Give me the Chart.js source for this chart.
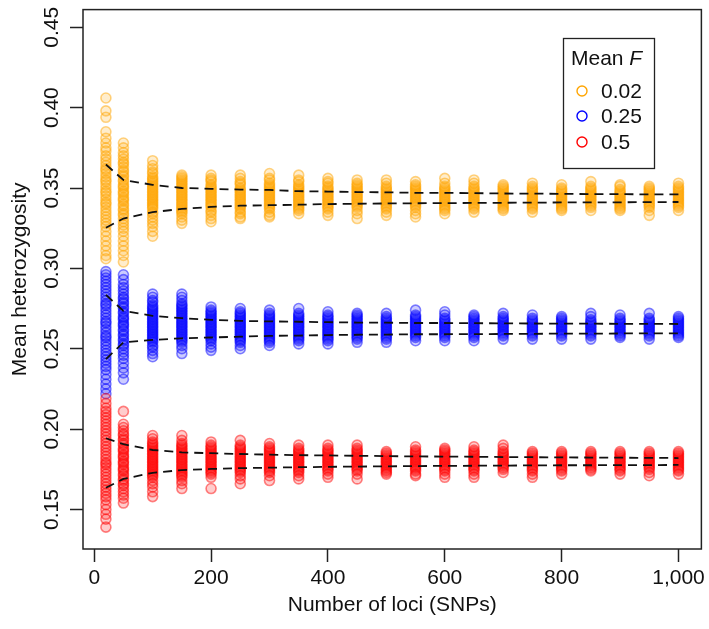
<!DOCTYPE html>
<html>
<head>
<meta charset="utf-8">
<script src="https://cdn.jsdelivr.net/npm/chart.js@4/dist/chart.umd.min.js"></script>
<style>
html,body{margin:0;padding:0;background:#fff;}
#wrap{width:709px;height:629px;position:relative;}
</style>
</head>
<body>
<div id="wrap"><canvas id="c"></canvas></div>
<script>
// ---- data ----
const lociCounts = [20,50,100,150,200,250,300,350,400,450,500,550,600,650,700,750,800,850,900,950,1000];
const xTickValues = [0,200,400,600,800,1000];
const yTickValues = [0.15,0.20,0.25,0.30,0.35,0.40,0.45];
const seriesLabels = ['0.02','0.25','0.5'];
const seriesColors = ['255,165,0','0,0,255','255,0,0'];

// Mean F = 0.02 : heterozygosity replicates per number of loci
const hetF002 = [
 [0.406,0.398,0.394,0.385,0.381,0.378,0.375,0.373,0.370,0.368,0.366,0.364,0.362,0.361,0.359,0.357,0.355,0.354,0.352,0.350,0.348,0.347,0.345,0.343,0.341,0.340,0.338,0.336,0.334,0.332,0.330,0.328,0.326,0.323,0.320,0.317,0.314,0.311,0.308,0.306],
 [0.378,0.375,0.372,0.370,0.368,0.366,0.365,0.363,0.361,0.360,0.358,0.357,0.355,0.354,0.352,0.351,0.350,0.348,0.347,0.346,0.344,0.343,0.342,0.340,0.339,0.337,0.336,0.334,0.333,0.331,0.329,0.327,0.325,0.323,0.320,0.317,0.314,0.311,0.308,0.304],
 [0.367,0.364,0.362,0.360,0.359,0.357,0.356,0.355,0.354,0.353,0.352,0.351,0.350,0.349,0.348,0.347,0.346,0.345,0.344,0.343,0.342,0.341,0.340,0.339,0.338,0.337,0.335,0.334,0.332,0.330,0.328,0.326,0.323,0.320],
 [0.358,0.357,0.356,0.355,0.354,0.353,0.352,0.351,0.350,0.349,0.348,0.347,0.346,0.345,0.344,0.343,0.342,0.341,0.340,0.339,0.338,0.337,0.336,0.335,0.334,0.332,0.330,0.328],
 [0.358,0.356,0.355,0.354,0.352,0.351,0.350,0.349,0.348,0.347,0.346,0.345,0.344,0.343,0.342,0.341,0.340,0.339,0.338,0.336,0.335,0.333,0.331,0.329],
 [0.358,0.356,0.354,0.353,0.352,0.350,0.349,0.348,0.347,0.346,0.345,0.344,0.343,0.342,0.341,0.340,0.339,0.338,0.337,0.335,0.334,0.332,0.331],
 [0.359,0.356,0.355,0.353,0.352,0.351,0.350,0.349,0.348,0.347,0.346,0.345,0.344,0.343,0.342,0.341,0.340,0.339,0.338,0.337,0.335,0.333,0.332],
 [0.358,0.355,0.354,0.352,0.351,0.350,0.349,0.348,0.347,0.346,0.345,0.344,0.343,0.342,0.341,0.340,0.339,0.338,0.337,0.336,0.334],
 [0.356,0.354,0.353,0.351,0.350,0.349,0.348,0.347,0.346,0.345,0.344,0.343,0.342,0.341,0.340,0.339,0.338,0.337,0.335,0.333],
 [0.355,0.353,0.352,0.351,0.350,0.349,0.348,0.347,0.346,0.345,0.344,0.343,0.342,0.341,0.340,0.339,0.338,0.336,0.334,0.331],
 [0.355,0.353,0.351,0.350,0.349,0.348,0.347,0.346,0.345,0.344,0.343,0.342,0.341,0.340,0.339,0.338,0.337,0.335,0.333],
 [0.354,0.352,0.351,0.350,0.349,0.348,0.347,0.346,0.345,0.344,0.343,0.342,0.341,0.340,0.339,0.338,0.336,0.334,0.332],
 [0.356,0.353,0.351,0.350,0.349,0.348,0.347,0.346,0.345,0.344,0.343,0.342,0.341,0.340,0.339,0.338,0.337,0.336,0.334],
 [0.355,0.353,0.351,0.350,0.349,0.348,0.347,0.346,0.345,0.344,0.343,0.342,0.341,0.340,0.339,0.338,0.337,0.335],
 [0.352,0.351,0.350,0.349,0.348,0.347,0.346,0.345,0.344,0.343,0.342,0.341,0.340,0.339,0.338,0.337,0.336],
 [0.353,0.351,0.350,0.349,0.348,0.347,0.346,0.345,0.344,0.343,0.342,0.341,0.340,0.339,0.338,0.337,0.335],
 [0.352,0.350,0.349,0.348,0.347,0.346,0.345,0.344,0.343,0.342,0.341,0.340,0.339,0.338,0.337,0.336],
 [0.354,0.351,0.350,0.349,0.348,0.347,0.346,0.345,0.344,0.343,0.342,0.341,0.340,0.339,0.338,0.336],
 [0.352,0.351,0.349,0.348,0.347,0.346,0.345,0.344,0.343,0.342,0.341,0.340,0.339,0.338,0.337,0.336],
 [0.351,0.350,0.349,0.348,0.347,0.346,0.345,0.344,0.343,0.342,0.341,0.340,0.339,0.338,0.336,0.333],
 [0.353,0.351,0.350,0.349,0.348,0.347,0.346,0.345,0.344,0.343,0.342,0.341,0.340,0.339,0.338,0.336]
];
// Mean F = 0.25
const hetF025 = [
 [0.298,0.296,0.294,0.292,0.290,0.288,0.286,0.284,0.282,0.280,0.278,0.277,0.275,0.273,0.271,0.269,0.267,0.266,0.264,0.262,0.260,0.258,0.257,0.255,0.253,0.251,0.249,0.247,0.245,0.243,0.241,0.239,0.237,0.234,0.231,0.228,0.225,0.222],
 [0.296,0.293,0.290,0.288,0.286,0.284,0.282,0.281,0.279,0.278,0.276,0.275,0.273,0.272,0.270,0.269,0.268,0.266,0.265,0.264,0.262,0.261,0.259,0.258,0.256,0.255,0.253,0.252,0.250,0.248,0.246,0.244,0.241,0.238,0.235,0.231],
 [0.284,0.282,0.280,0.279,0.277,0.276,0.275,0.274,0.273,0.272,0.271,0.270,0.269,0.268,0.267,0.266,0.265,0.264,0.263,0.262,0.261,0.260,0.259,0.258,0.257,0.256,0.255,0.254,0.252,0.251,0.249,0.247,0.245],
 [0.284,0.282,0.280,0.278,0.277,0.276,0.275,0.274,0.273,0.272,0.271,0.270,0.269,0.268,0.267,0.266,0.265,0.264,0.263,0.262,0.261,0.260,0.259,0.258,0.257,0.256,0.255,0.254,0.252,0.250,0.247],
 [0.276,0.274,0.273,0.272,0.271,0.270,0.269,0.268,0.267,0.266,0.265,0.264,0.263,0.262,0.261,0.260,0.259,0.258,0.257,0.256,0.255,0.253,0.251,0.249],
 [0.275,0.273,0.272,0.271,0.270,0.269,0.268,0.267,0.266,0.265,0.264,0.263,0.262,0.261,0.260,0.259,0.258,0.257,0.256,0.255,0.254,0.252,0.250],
 [0.274,0.272,0.271,0.270,0.269,0.268,0.267,0.266,0.265,0.264,0.263,0.262,0.261,0.260,0.259,0.258,0.257,0.256,0.255,0.254,0.252],
 [0.275,0.272,0.271,0.270,0.269,0.268,0.267,0.266,0.265,0.264,0.263,0.262,0.261,0.260,0.259,0.258,0.257,0.256,0.255,0.253],
 [0.273,0.271,0.270,0.269,0.268,0.267,0.266,0.265,0.264,0.263,0.262,0.261,0.260,0.259,0.258,0.257,0.256,0.255,0.253],
 [0.272,0.271,0.270,0.269,0.268,0.267,0.266,0.265,0.264,0.263,0.262,0.261,0.260,0.259,0.258,0.257,0.256,0.254],
 [0.272,0.270,0.269,0.268,0.267,0.266,0.265,0.264,0.263,0.262,0.261,0.260,0.259,0.258,0.257,0.256,0.254],
 [0.274,0.271,0.270,0.269,0.268,0.267,0.266,0.265,0.264,0.263,0.262,0.261,0.260,0.259,0.258,0.257,0.255],
 [0.273,0.271,0.269,0.268,0.267,0.266,0.265,0.264,0.263,0.262,0.261,0.260,0.259,0.258,0.257,0.255],
 [0.271,0.270,0.269,0.268,0.267,0.266,0.265,0.264,0.263,0.262,0.261,0.260,0.259,0.258,0.257,0.255],
 [0.272,0.270,0.269,0.268,0.267,0.266,0.265,0.264,0.263,0.262,0.261,0.260,0.259,0.258,0.256],
 [0.271,0.269,0.268,0.267,0.266,0.265,0.264,0.263,0.262,0.261,0.260,0.259,0.258,0.256],
 [0.270,0.269,0.268,0.267,0.266,0.265,0.264,0.263,0.262,0.261,0.260,0.259,0.258,0.256],
 [0.272,0.270,0.268,0.267,0.266,0.265,0.264,0.263,0.262,0.261,0.260,0.259,0.258,0.256],
 [0.271,0.269,0.268,0.267,0.266,0.265,0.264,0.263,0.262,0.261,0.260,0.259,0.258,0.257],
 [0.272,0.269,0.268,0.267,0.266,0.265,0.264,0.263,0.262,0.261,0.260,0.259,0.258,0.256],
 [0.270,0.269,0.268,0.267,0.266,0.265,0.264,0.263,0.262,0.261,0.260,0.259,0.258,0.257]
];
// Mean F = 0.5
const hetF050 = [
 [0.219,0.216,0.213,0.211,0.209,0.207,0.205,0.203,0.201,0.199,0.197,0.195,0.193,0.191,0.189,0.187,0.185,0.183,0.181,0.179,0.178,0.176,0.174,0.172,0.170,0.168,0.166,0.164,0.162,0.160,0.158,0.156,0.153,0.150,0.147,0.144,0.139],
 [0.211,0.203,0.201,0.199,0.197,0.196,0.194,0.193,0.191,0.190,0.188,0.187,0.186,0.184,0.183,0.182,0.180,0.179,0.178,0.176,0.175,0.174,0.172,0.171,0.169,0.168,0.166,0.165,0.163,0.161,0.159,0.157,0.154],
 [0.196,0.194,0.192,0.191,0.190,0.189,0.188,0.187,0.186,0.185,0.184,0.183,0.182,0.181,0.180,0.179,0.178,0.177,0.176,0.175,0.174,0.173,0.172,0.171,0.170,0.168,0.166,0.164,0.161,0.158],
 [0.196,0.193,0.191,0.190,0.189,0.188,0.187,0.186,0.185,0.184,0.183,0.182,0.181,0.180,0.179,0.178,0.177,0.176,0.175,0.174,0.173,0.172,0.171,0.170,0.168,0.166,0.163],
 [0.192,0.190,0.189,0.188,0.187,0.186,0.185,0.184,0.183,0.182,0.181,0.180,0.179,0.178,0.177,0.176,0.175,0.174,0.173,0.172,0.170,0.163],
 [0.193,0.190,0.189,0.188,0.187,0.186,0.185,0.184,0.183,0.182,0.181,0.180,0.179,0.178,0.177,0.176,0.175,0.174,0.173,0.171,0.169,0.166],
 [0.191,0.189,0.188,0.187,0.186,0.185,0.184,0.183,0.182,0.181,0.180,0.179,0.178,0.177,0.176,0.175,0.174,0.173,0.171,0.168],
 [0.190,0.188,0.187,0.186,0.185,0.184,0.183,0.182,0.181,0.180,0.179,0.178,0.177,0.176,0.175,0.174,0.173,0.171,0.169],
 [0.190,0.188,0.187,0.186,0.185,0.184,0.183,0.182,0.181,0.180,0.179,0.178,0.177,0.176,0.175,0.174,0.172,0.170],
 [0.190,0.188,0.187,0.186,0.185,0.184,0.183,0.182,0.181,0.180,0.179,0.178,0.177,0.176,0.175,0.174,0.172,0.169],
 [0.186,0.185,0.184,0.183,0.182,0.181,0.180,0.179,0.178,0.177,0.176,0.175,0.174,0.173,0.172],
 [0.189,0.187,0.186,0.185,0.184,0.183,0.182,0.181,0.180,0.179,0.178,0.177,0.176,0.175,0.174,0.172,0.171],
 [0.188,0.187,0.186,0.185,0.184,0.183,0.182,0.181,0.180,0.179,0.178,0.177,0.176,0.175,0.174,0.172,0.170],
 [0.189,0.187,0.186,0.185,0.184,0.183,0.182,0.181,0.180,0.179,0.178,0.177,0.176,0.175,0.174,0.172,0.170],
 [0.190,0.188,0.186,0.185,0.184,0.183,0.182,0.181,0.180,0.179,0.178,0.177,0.176,0.175,0.173],
 [0.186,0.185,0.184,0.183,0.182,0.181,0.180,0.179,0.178,0.177,0.176,0.175,0.174,0.172,0.170],
 [0.186,0.185,0.184,0.183,0.182,0.181,0.180,0.179,0.178,0.177,0.176,0.175,0.174,0.172],
 [0.186,0.185,0.184,0.183,0.182,0.181,0.180,0.179,0.178,0.177,0.176,0.175,0.174],
 [0.186,0.185,0.184,0.183,0.182,0.181,0.180,0.179,0.178,0.177,0.176,0.175,0.174,0.172],
 [0.186,0.185,0.184,0.183,0.182,0.181,0.180,0.179,0.178,0.177,0.176,0.175,0.173,0.171],
 [0.186,0.185,0.184,0.183,0.182,0.181,0.180,0.179,0.178,0.177,0.176,0.175,0.174,0.172]
];
// dashed envelope lines
const upperF002 = [0.3646,0.355,0.352,0.350,0.3495,0.349,0.3488,0.348,0.3478,0.3475,0.3473,0.347,0.347,0.3468,0.3466,0.3465,0.3464,0.3462,0.3462,0.346,0.346];
const lowerF002 = [0.3253,0.331,0.335,0.337,0.3382,0.339,0.3393,0.3396,0.340,0.3402,0.3404,0.3405,0.3406,0.3407,0.3408,0.3409,0.341,0.341,0.3411,0.3412,0.3413];
const upperF025 = [0.2835,0.2735,0.2705,0.269,0.268,0.2673,0.267,0.2668,0.2665,0.2663,0.2662,0.266,0.266,0.2659,0.2658,0.2657,0.2656,0.2656,0.2655,0.2655,0.2654];
const lowerF025 = [0.2435,0.254,0.2555,0.2565,0.257,0.2575,0.258,0.2582,0.2585,0.2587,0.2588,0.259,0.259,0.2591,0.2592,0.2593,0.2594,0.2594,0.2595,0.2595,0.2596];
const upperF050 = [0.1943,0.1906,0.187,0.1855,0.185,0.1845,0.1841,0.1838,0.1836,0.1834,0.1832,0.183,0.1829,0.1828,0.1826,0.1825,0.1824,0.1823,0.1822,0.1821,0.182];
const lowerF050 = [0.1635,0.169,0.1728,0.1745,0.1752,0.1757,0.176,0.1763,0.1765,0.1767,0.1768,0.177,0.1771,0.1772,0.1773,0.1774,0.1775,0.1775,0.1776,0.1776,0.1777];

// ---- build datasets ----
const FONT = "'Liberation Sans', Arial, Helvetica, sans-serif";
function toPoints(cols){ return cols.flatMap((col,i)=>col.map(v=>({x:lociCounts[i], y:v}))); }
function toLine(vals){ return vals.map((v,i)=>({x:lociCounts[i], y:v})); }

const groups = [hetF002, hetF025, hetF050];
const pointSets = groups.map((g,k)=>({
  label: seriesLabels[k],
  data: toPoints(g),
  showLine:false,
  pointStyle:'circle',
  pointRadius:5,
  pointHoverRadius:5,
  pointBackgroundColor:'rgba('+seriesColors[k]+',0.2)',
  pointBorderColor:'rgba('+seriesColors[k]+',0.48)',
  pointBorderWidth:1.6,
  order: 3-k
}));
const lineSets = [upperF002,lowerF002,upperF025,lowerF025,upperF050,lowerF050].map(v=>({
  label:'',
  data: toLine(v),
  showLine:true,
  pointRadius:0,
  borderColor:'#111',
  borderWidth:1.8,
  borderDash:[9,6],
  fill:false,
  order:0
}));

const boxPlugin = {
  id:'boxAndLegend',
  afterDraw(chart){
    const ctx = chart.ctx, a = chart.chartArea;
    ctx.save();
    ctx.strokeStyle='#222'; ctx.lineWidth=1.5;
    ctx.strokeRect(a.left, a.top, a.right-a.left, a.bottom-a.top);
    // legend
    const lx=563, ly=38, lw=91, lh=130;
    ctx.fillStyle='#fff';
    ctx.fillRect(lx,ly,lw,lh);
    ctx.lineWidth=1.3; ctx.strokeStyle='#222';
    ctx.strokeRect(lx+0.5,ly+0.5,lw,lh);
    ctx.fillStyle='#111';
    ctx.textBaseline='middle'; ctx.textAlign='left';
    ctx.font='21px '+FONT;
    const t1='Mean ';
    ctx.fillText(t1, 571, 59);
    const w1=ctx.measureText(t1).width;
    ctx.font='italic 21px '+FONT;
    ctx.fillText('F', 571+w1, 59);
    ctx.font='21px '+FONT;
    const ys=[91,116,142];
    seriesLabels.forEach((lab,k)=>{
      ctx.beginPath();
      ctx.arc(582, ys[k], 5, 0, Math.PI*2);
      ctx.strokeStyle='rgb('+seriesColors[k]+')';
      ctx.lineWidth=1.4;
      ctx.stroke();
      ctx.fillStyle='#111';
      ctx.fillText(lab, 601, ys[k]+1);
    });
    ctx.restore();
  }
};

new Chart(document.getElementById('c'), {
  type:'scatter',
  data:{datasets:[...lineSets, ...pointSets]},
  options:{
    responsive:true,
    maintainAspectRatio:false,
    animation:false,
    events:[],
    layout:{padding:{top:3,right:6,left:0,bottom:0}},
    plugins:{legend:{display:false}, tooltip:{enabled:false}},
    scales:{
      x:{
        type:'linear', min:-19.2, max:1039.2,
        afterBuildTicks(s){ s.ticks = xTickValues.map(v=>({value:v})); },
        afterFit(s){ s.height = 80; },
        grid:{drawOnChartArea:false, drawTicks:true, tickLength:13, tickColor:'#222', tickWidth:1.5},
        border:{display:false},
        ticks:{
          autoSkip:false, maxRotation:0, padding:4, color:'#111',
          font:{family:FONT, size:21},
          callback:(v)=>Number(v).toLocaleString('en-US')
        },
        title:{display:true, text:'Number of loci (SNPs)', color:'#111',
          font:{family:FONT, size:21}, padding:{top:0,bottom:11}}
      },
      y:{
        type:'linear', min:0.1254, max:0.461,
        afterBuildTicks(s){ s.ticks = yTickValues.map(v=>({value:v})); },
        afterFit(s){ s.width = 83; },
        grid:{drawOnChartArea:false, drawTicks:true, tickLength:13, tickColor:'#222', tickWidth:1.5},
        border:{display:false},
        ticks:{
          autoSkip:false, minRotation:90, maxRotation:90, crossAlign:'center', padding:-3, color:'#111',
          font:{family:FONT, size:21},
          callback:(v)=>Number(v).toFixed(2)
        },
        title:{display:true, text:'Mean heterozygosity', color:'#111',
          font:{family:FONT, size:21}, padding:{top:8,bottom:0}}
      }
    }
  },
  plugins:[boxPlugin]
});
</script>
</body>
</html>
